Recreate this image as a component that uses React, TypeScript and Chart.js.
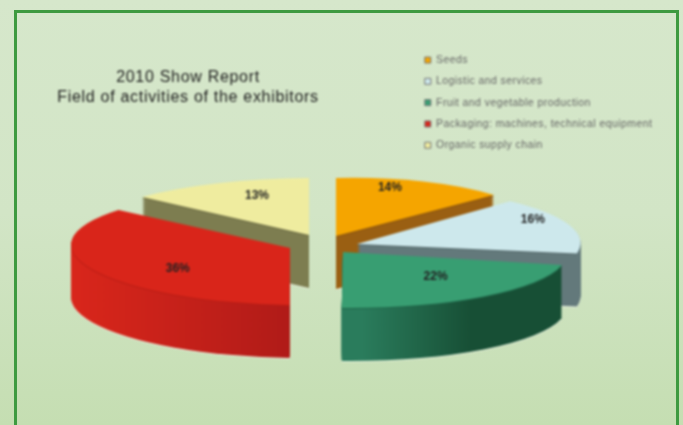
import React, { useEffect, useRef } from "react";
import { Chart, registerables } from "chart.js";

Chart.register(...registerables);

const categories = [
  "Seeds",
  "Logistic and services",
  "Fruit and vegetable production",
  "Packaging: machines, technical equipment",
  "Organic supply chain",
];
const shares = [14, 16, 22, 36, 13];
const topColors = ["#f5a500", "#cde8ec", "#389e72", "#d9251a", "#efec9f"];
const titleLines = ["2010 Show Report", "Field of activities of the exhibitors"];

// Styling of the 3D projection: where each slice's tip sits, and the affine squash.
const tips = [[336, 236], [357, 244], [343, 252], [290, 248], [309, 235]];
const squash = [
  [206.5, -4.8, 0, 58],
  [222, -7.6, 26, 57.3],
  [222.9, -3.35, 19.6, 55.9],
  [218, -1.9, 20, 57.1],
  [230.7, -1.8, 0, 57],
];
const sideStops: (string[])[] = [
  ["#9a5f12", "#9a5f12"],
  ["#63797b", "#63797b"],
  ["#2a7c5c", "#174f35"],
  ["#d8261b", "#ac1a18"],
  ["#7d7d50", "#7d7d50"],
];
const gradientSpan = [[0, 1], [0, 1], [0, 0.5], [-1, 0], [-1, 0]];
const rimColors = ["#8a5410", "#566a6c", "#1f6347", "#b81e16", "#6d6d45"];
const labelFrac = [0.36, 0.34, 0.44, 0.405, 0.61];
const labelR = [0.847, 0.886, 0.6, 0.65, 0.727];
const drawOrder = [4, 0, 1, 3, 2];
const DEPTH = 53;

const flat = (fill: any) => ({
  backgroundColor: fill,
  borderColor: "transparent",
  borderWidth: 0,
  borderAlign: "center",
  borderRadius: 0,
  borderDash: [],
  borderDashOffset: 0,
  borderJoinStyle: "round",
  spacing: 0,
  offset: 0,
  circular: true,
});

const spaced = (box: any, ctx: any, spacing: string) => {
  if (box.__spaced) return;
  box.__spaced = true;
  const original = box.draw;
  box.draw = function (...args: any[]) {
    ctx.save();
    ctx.letterSpacing = spacing;
    original.apply(box, args);
    ctx.restore();
  };
};

const pie3d = {
  id: "pie3d",
  afterLayout(chart: any) {
    const lg = chart.legend;
    const h = lg.height;
    lg.left = 414; lg.right = 683; lg.top = 44; lg.bottom = 44 + h;
    const t = chart.titleBlock;
    const th = t.height;
    t.left = 0; t.right = 376; t.top = 68; t.bottom = 68 + th;
    spaced(t, chart.ctx, "0.7px");
    spaced(lg, chart.ctx, "0.43px");
  },
  beforeDatasetsDraw(chart: any) {
    const ctx = chart.ctx;
    const arcs = chart.getDatasetMeta(0).data;
    const paint = (i: number, fill: any, drop: number) => {
      const arc = arcs[i];
      const R = arc.outerRadius;
      const m = squash[i];
      ctx.save();
      ctx.translate(tips[i][0], tips[i][1] + drop);
      ctx.transform(m[0] / R, m[1] / R, m[2] / R, m[3] / R, 0, 0);
      ctx.translate(-arc.x, -arc.y);
      const ghost = Object.create(arc);
      ghost.options = flat(typeof fill === "function" ? fill(arc, R) : fill);
      ghost.draw(ctx);
      ctx.restore();
    };
    for (const i of drawOrder) {
      paint(i, "rgba(240,246,232,0.8)", DEPTH + 1);
      const sideFill = (arc: any, R: number) => {
        const s = gradientSpan[i];
        const g = ctx.createLinearGradient(arc.x + s[0] * R, 0, arc.x + s[1] * R, 0);
        g.addColorStop(0, sideStops[i][0]);
        g.addColorStop(1, sideStops[i][1]);
        return g;
      };
      for (let d = DEPTH; d >= 1; d--) paint(i, sideFill, d);
      paint(i, rimColors[i], 1);
      paint(i, topColors[i], 0);
    }
    ctx.save();
    ctx.font = 'bold 12px "Liberation Sans"';
    ctx.fillStyle = "#222222";
    ctx.textAlign = "center";
    ctx.textBaseline = "middle";
    arcs.forEach((arc: any, i: number) => {
      const th = arc.startAngle + labelFrac[i] * (arc.endAngle - arc.startAngle);
      const x = labelR[i] * Math.cos(th);
      const y = labelR[i] * Math.sin(th);
      const m = squash[i];
      ctx.fillText(
        `${shares[i]}%`,
        tips[i][0] + m[0] * x + m[2] * y,
        tips[i][1] + m[1] * x + m[3] * y
      );
    });
    ctx.restore();
    return false;
  },
};

export default function App() {
  const ref = useRef<HTMLCanvasElement>(null);
  useEffect(() => {
    document.body.style.margin = "0";
    const chart = new Chart(ref.current!, {
      type: "pie",
      data: {
        labels: categories,
        datasets: [
          {
            data: shares,
            backgroundColor: topColors,
            borderColor: "#777777",
            borderWidth: 1,
          },
        ],
      },
      options: {
        animation: false,
        responsive: false,
        layout: { padding: 0 },
        plugins: {
          tooltip: { enabled: false },
          title: {
            display: true,
            text: titleLines,
            color: "#1c1c1c",
            padding: 0,
            font: { family: "Liberation Sans", size: 16, weight: "normal", lineHeight: 1.25 },
          },
          legend: {
            position: "chartArea",
            align: "start",
            labels: {
              boxWidth: 6,
              boxHeight: 6,
              padding: 10.8,
              color: "#666666",
              font: { family: "Liberation Sans", size: 10.5 },
            },
          },
        },
      },
      plugins: [pie3d],
    } as any);
    return () => chart.destroy();
  }, []);
  return (
    <div
      style={{
        position: "relative",
        width: 683,
        height: 425,
        overflow: "hidden",
        background: "linear-gradient(180deg,#d6e7cb 0%,#d2e5c6 50%,#c5deb2 100%)",
      }}
    >
      <div
        style={{
          position: "absolute",
          left: 13.5,
          top: 9.5,
          width: 659.5,
          height: 440,
          border: "3px solid #3e9a40",
        }}
      />
      <canvas
        ref={ref}
        width={683}
        height={425}
        style={{ position: "absolute", left: 0, top: 0, filter: "blur(0.8px)" }}
      />
    </div>
  );
}
